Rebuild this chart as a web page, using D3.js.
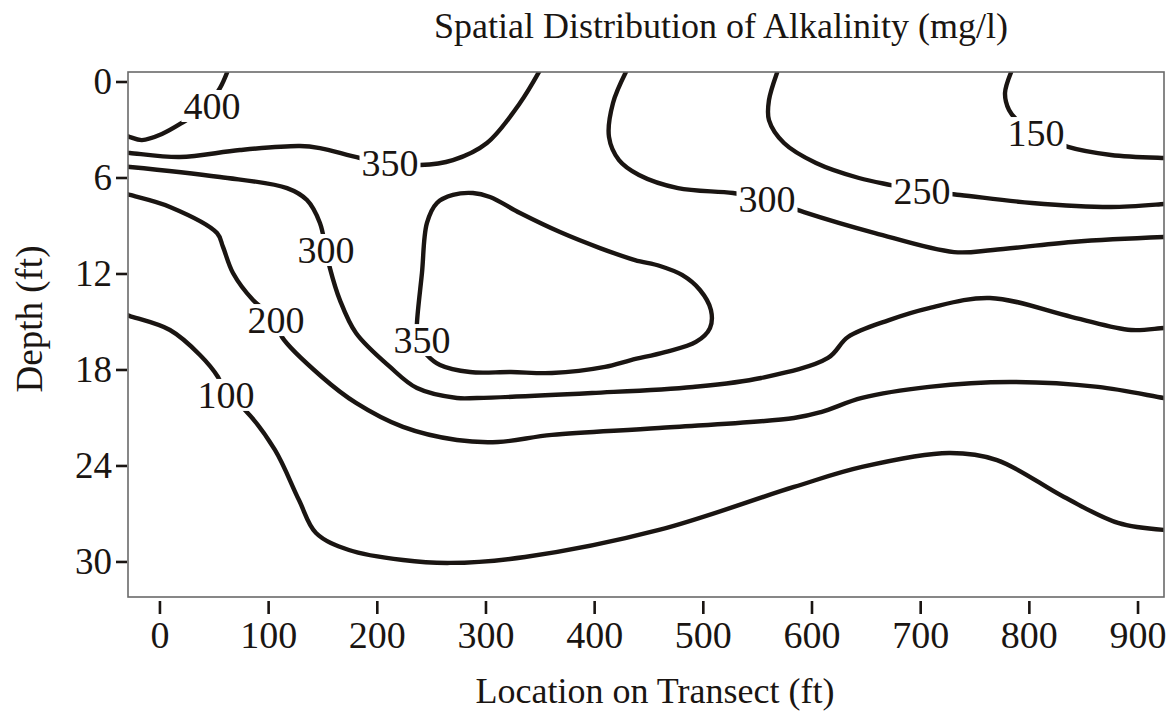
<!DOCTYPE html>
<html>
<head>
<meta charset="utf-8">
<script src="https://cdn.jsdelivr.net/npm/d3@7"></script>
<style>
  html, body { margin: 0; padding: 0; background: #fff; }
  svg { display: block; }
  text { font-family: "Liberation Serif", "DejaVu Serif", serif; fill: #1a1512; }
</style>
</head>
<body>
<svg id="chart" width="1176" height="713"></svg>
<script>
// ---------- data (x = location on transect, ft ; d = depth, ft) ----------
const xTicks = [0, 100, 200, 300, 400, 500, 600, 700, 800, 900];
const yTicks = [0, 6, 12, 18, 24, 30];

const line400 = [[-33,3.3],[-27.6,3.44],[-16.6,3.63],[1.8,3.25],[23.0,2.44],[41.4,1.63],[55.2,0.38],[63.5,-0.9]];
const line350a = [[-33,4.42],[-27.6,4.44],[18.4,4.69],[73.6,4.25],[128.8,4.0],[147.2,4.13],[184.0,4.75],[211.7,5.06],[239.3,5.19],[269.6,4.88],[300.9,3.81],[331.3,1.31],[351,-0.9]];
const line300a = [[-33,5.28],[-27.6,5.31],[55.2,5.94],[116.9,6.63],[135.3,7.38],[147.2,8.81],[152.8,10.5],[156.4,11.63],[165.6,13.63],[180.4,15.69],[211.7,17.81],[236.5,19.13],[273.3,19.75],[291.7,19.75],[397.5,19.44],[490.5,19.06],[553.1,18.5],[614.7,17.25],[633.1,15.94],[670.9,14.88],[707.7,14.13],[763.8,13.5],[839.3,14.69],[893.6,15.5],[923.9,15.38],[930,15.4]];
const line300b = [[431,-0.9],[429.7,-0.75],[416.9,1.31],[413.2,3.44],[422.4,4.88],[440.8,5.81],[476.7,6.63],[527.3,6.94],[558.6,7.31],[592.6,8.13],[658.0,9.44],[730.7,10.63],[766.6,10.5],[839.3,10.0],[923.9,9.69],[930,9.68]];
const line250 = [[569.5,-0.9],[568.7,-0.75],[560.4,1.13],[560.4,2.38],[574.2,3.81],[603.7,5.06],[643.2,6.0],[672.7,6.44],[701.2,6.81],[736.2,7.06],[802.4,7.56],[875.1,7.81],[923.9,7.63],[930,7.6]];
const line150 = [[785,-0.9],[784.0,-0.75],[777.6,0.69],[781.3,1.75],[788.6,2.38],[806.1,3.19],[835.6,4.06],[875.1,4.56],[923.9,4.75],[930,4.76]];
const line350loop = [[236.5,16.13],[236.5,15.06],[241.1,11.94],[245.7,8.81],[254.9,7.56],[269.6,7.06],[288.0,6.94],[303.7,7.19],[331.3,8.19],[368.1,9.38],[404.9,10.38],[437.1,11.13],[460.1,11.5],[480.4,12.06],[496.9,13.0],[507.0,14.25],[506.1,15.38],[493.2,16.25],[464.7,16.88],[433.4,17.38],[409.5,17.81],[360.7,18.19],[323.0,18.13],[285.3,18.13],[257.7,17.69],[245.7,17.06]];
const line200 = [[-33,6.95],[-27.6,7.06],[9.2,7.81],[52.5,9.44],[58.0,10.31],[67.2,11.94],[85.6,13.63],[106.7,14.88],[112.3,15.94],[149.1,18.44],[180.4,20.06],[223.6,21.56],[273.3,22.38],[311.0,22.5],[360.7,22.06],[459.2,21.63],[583.4,21.0],[608.3,20.63],[646.0,19.75],[707.7,19.06],[782.2,18.75],[863.2,19.06],[923.9,19.75],[930,19.8]];
const line100 = [[-33,14.5],[-27.6,14.63],[9.2,15.5],[36.8,17.06],[53.4,18.44],[60.7,19.56],[78.2,20.5],[105.8,23.0],[127.9,26.13],[143.6,28.19],[173.9,29.25],[223.6,29.88],[266.9,30.06],[335.9,29.69],[459.2,28.0],[583.4,25.31],[646.0,24.06],[726.1,23.19],[770.2,23.63],[831.9,25.94],[881.6,27.56],[923.9,28.0],[930,28.0]];

const contourLines = [line400, line350a, line300a, line300b, line250, line150, line200, line100];
const closedLines = [line350loop];

const labelText = ["400", "350", "300", "200", "100", "350", "300", "250", "150"];
const labelX = [47.8, 211.7, 152.8, 106.7, 60.7, 241.1, 558.6, 701.2, 806.1];
const labelD = [1.5, 5.06, 10.5, 14.88, 19.56, 16.13, 7.31, 6.81, 3.19];

// ---------- layout ----------
const mL = 128, mR = 1164, mT = 72, mB = 597;
const svg = d3.select("#chart");

const x = d3.scaleLinear().domain([-29.4, 923.9]).range([mL, mR]);
const y = d3.scaleLinear().domain([-0.625, 32.19]).range([mT, mB]);

const ink = "#1a1512";

svg.append("defs").append("clipPath").attr("id", "plotClip")
  .append("rect").attr("x", mL).attr("y", mT).attr("width", mR - mL).attr("height", mB - mT);

const g = svg.append("g").attr("clip-path", "url(#plotClip)");

const lineGen = d3.line().x(d => x(d[0])).y(d => y(d[1])).curve(d3.curveCatmullRom.alpha(0.5));
const closedGen = d3.line().x(d => x(d[0])).y(d => y(d[1])).curve(d3.curveCatmullRomClosed.alpha(0.5));

g.selectAll("path.open").data(contourLines).join("path")
  .attr("class", "open")
  .attr("d", lineGen)
  .attr("fill", "none").attr("stroke", ink).attr("stroke-width", 4.4)
  .attr("stroke-linecap", "butt").attr("stroke-linejoin", "round");

g.selectAll("path.closed").data(closedLines).join("path")
  .attr("class", "closed")
  .attr("d", closedGen)
  .attr("fill", "none").attr("stroke", ink).attr("stroke-width", 4.4)
  .attr("stroke-linejoin", "round");

// contour labels with white gap
const labels = d3.range(labelText.length).map(i => ({ t: labelText[i], x: labelX[i], d: labelD[i] }));
const lg = svg.append("g");
labels.forEach(l => {
  const t = lg.append("text")
    .attr("x", x(l.x)).attr("y", y(l.d))
    .attr("text-anchor", "middle")
    .attr("dominant-baseline", "central")
    .attr("font-size", 38)
    .text(l.t);
  const bb = t.node().getBBox();
  lg.insert("rect", () => t.node())
    .attr("x", bb.x - 2).attr("y", bb.y + 5)
    .attr("width", bb.width + 4).attr("height", bb.height - 10)
    .attr("fill", "#fff");
});

// frame
svg.append("rect")
  .attr("x", mL).attr("y", mT).attr("width", mR - mL).attr("height", mB - mT)
  .attr("fill", "none").attr("stroke", "#6a6a6a").attr("stroke-width", 1.6);

// x axis ticks (detached below frame)
const xg = svg.append("g");
xg.selectAll("line").data(xTicks).join("line")
  .attr("x1", d => x(d)).attr("x2", d => x(d))
  .attr("y1", mB + 4).attr("y2", mB + 17)
  .attr("stroke", ink).attr("stroke-width", 2.6);
xg.selectAll("text").data(xTicks).join("text")
  .attr("x", d => x(d)).attr("y", mB + 51)
  .attr("text-anchor", "middle").attr("font-size", 38)
  .text(d => d);

// y axis ticks
const yg = svg.append("g");
yg.selectAll("line").data(yTicks).join("line")
  .attr("x1", mL - 12).attr("x2", mL - 1)
  .attr("y1", d => y(d)).attr("y2", d => y(d))
  .attr("stroke", ink).attr("stroke-width", 2.6);
yg.selectAll("text").data(yTicks).join("text")
  .attr("x", mL - 16).attr("y", d => y(d))
  .attr("text-anchor", "end").attr("dominant-baseline", "central")
  .attr("font-size", 37)
  .text(d => d);

// titles
svg.append("text").attr("x", 721).attr("y", 38)
  .attr("text-anchor", "middle").attr("font-size", 36)
  .text("Spatial Distribution of Alkalinity (mg/l)");
svg.append("text").attr("x", 655).attr("y", 703)
  .attr("text-anchor", "middle").attr("font-size", 36)
  .text("Location on Transect (ft)");
svg.append("text")
  .attr("transform", "translate(42,319) rotate(-90)")
  .attr("text-anchor", "middle").attr("font-size", 37)
  .text("Depth (ft)");
</script>
</body>
</html>
